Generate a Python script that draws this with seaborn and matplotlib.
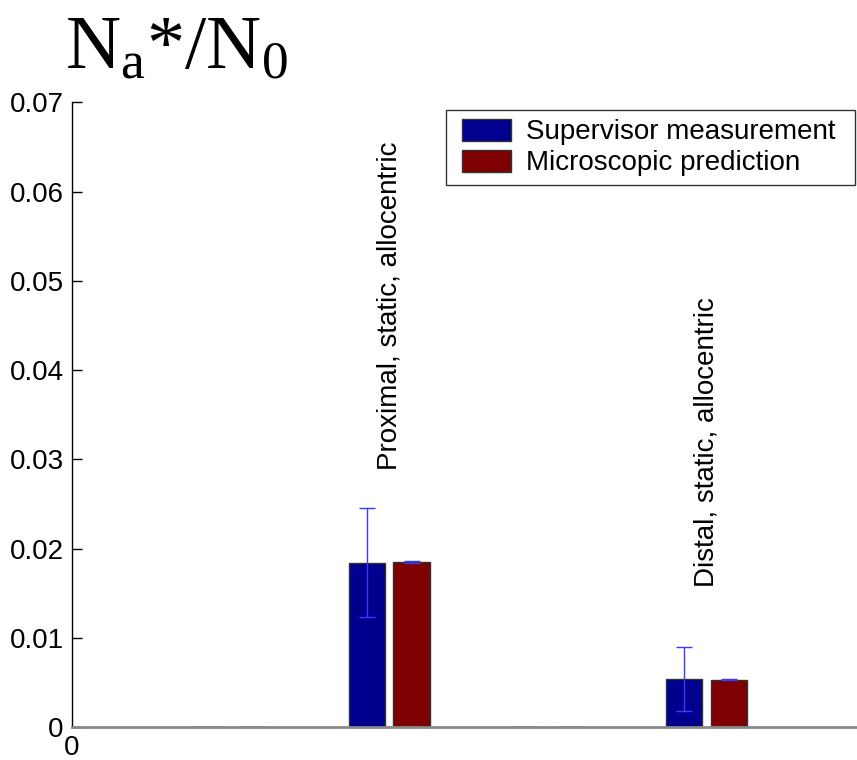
import matplotlib
matplotlib.use("Agg")
import matplotlib.pyplot as plt
import seaborn as sns
import pandas as pd
from matplotlib.patches import Rectangle
from matplotlib.legend_handler import HandlerPatch

# ---- data ----
group_pos = [1, 2, 3, 4]
group_labels = ["", "Proximal, static, allocentric", "", "Distal, static, allocentric"]
series_names = ["Supervisor measurement", "Microscopic prediction"]
supervisor_vals = [0.0, 0.0184, 0.0, 0.0054]
supervisor_err = [0.0, 0.0061, 0.0, 0.0036]
micro_vals = [0.0, 0.01853, 0.0, 0.0053]
micro_err = [0.0, 0.00012, 0.0, 0.00008]
yticks = [0, 0.01, 0.02, 0.03, 0.04, 0.05, 0.06, 0.07]
ytick_labels = ["0", "0.01", "0.02", "0.03", "0.04", "0.05", "0.06", "0.07"]

df = pd.DataFrame({
    "pos": group_pos * 2,
    "series": [series_names[0]] * 4 + [series_names[1]] * 4,
    "value": supervisor_vals + micro_vals,
})
errs = {series_names[0]: supervisor_err, series_names[1]: micro_err}
palette = {series_names[0]: "#00008F", series_names[1]: "#7F0000"}

sns.set_theme(style="white")
plt.rcParams["font.family"] = ["Liberation Sans", "DejaVu Sans"]
plt.rcParams["text.color"] = "black"
plt.rcParams["mathtext.fontset"] = "custom"
plt.rcParams["mathtext.rm"] = "Liberation Serif"
plt.rcParams["mathtext.it"] = "Liberation Serif"

fig = plt.figure(figsize=(8.57, 7.6), dpi=100)
ax = fig.add_axes([0.084, 0.0434, 0.916, 0.822])

sns.barplot(data=df, x="pos", y="value", hue="series", hue_order=series_names,
            palette=palette, native_scale=True, width=0.566, gap=0.19,
            errorbar=None, edgecolor="#333333", linewidth=1.0, saturation=1,
            ax=ax, legend=True)

for cont, name in zip(ax.containers, series_names):
    for patch, e in zip(cont, errs[name]):
        if e <= 0:
            continue
        xc = patch.get_x() + patch.get_width() / 2
        ax.errorbar(xc, patch.get_height(), yerr=e, fmt="none",
                    ecolor="#3a3aff", elinewidth=1.0, capsize=5.5, capthick=1.0,
                    zorder=5)

for x, lab, v1, v2 in zip(group_pos, group_labels, supervisor_vals, micro_vals):
    if lab:
        ax.text(x, max(v1, v2) + 0.0103, lab, rotation=90, ha="center",
                va="bottom", fontsize=20, color="black")

ax.set_xlim(0, 4.95)
ax.set_ylim(0, 0.07)
ax.set_yticks(yticks)
ax.set_yticklabels(ytick_labels)
ax.set_xticks([0])
ax.set_xticklabels(["0"])
ax.set_xlabel("")
ax.set_ylabel("")
ax.tick_params(axis="y", direction="in", length=7, width=1, labelsize=20,
               left=True, pad=6, colors="black")
ax.tick_params(axis="x", length=0, labelsize=20, pad=6, colors="black")
for s in ["top", "right"]:
    ax.spines[s].set_visible(False)
ax.spines["left"].set_color("black")
ax.spines["left"].set_linewidth(1.0)
ax.spines["bottom"].set_color("#888888")
ax.spines["bottom"].set_linewidth(2.0)


def shifted_patch(legend, orig_handle, xdescent, ydescent, width, height, fontsize):
    off = 0.275 * fontsize
    return Rectangle((-xdescent + off, -ydescent), width - off, height)


handles, labels = ax.get_legend_handles_labels()
leg = ax.legend(handles, labels, loc="upper left",
                bbox_to_anchor=(0.4764, 0.5, 0.521, 0.487), mode="expand",
                fontsize=20, frameon=True, fancybox=False, edgecolor="black",
                handlelength=2.025, handleheight=0.85, handletextpad=0.55,
                borderpad=0.3, labelspacing=0.15, borderaxespad=0,
                handler_map={Rectangle: HandlerPatch(patch_func=shifted_patch)})
leg.get_frame().set_linewidth(1.0)
for t in leg.get_texts():
    t.set_color("black")

fig.text(0.076, 1 - 68 / 760, r"N$_\mathrm{a}$*/N$_\mathrm{0}$",
         fontsize=55, family="Liberation Serif", va="baseline", ha="left",
         color="black")

fig.savefig("out.png", dpi=100)
